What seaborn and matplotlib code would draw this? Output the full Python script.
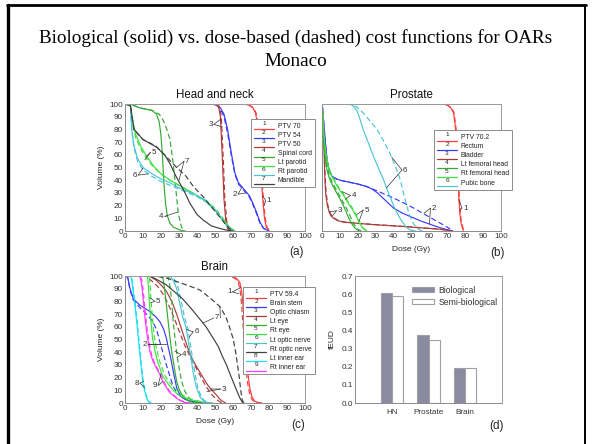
import numpy as np
import pandas as pd
import matplotlib
matplotlib.use("Agg")
import matplotlib.pyplot as plt
import seaborn as sns
from matplotlib.lines import Line2D
from matplotlib.text import Text
from matplotlib.legend_handler import HandlerLine2D

# ---------------- DATA ----------------
# Head and neck (a): organ -> (solid dose, solid vol, dashed dose, dashed vol)
hn_names = ["PTV 70", "PTV 54", "PTV 50", "Spinal cord", "Lt parotid", "Rt parotid", "Mandible"]
hn_colors = ["#ff3b3b", "#3a3aff", "#b03a3a", "#33aa33", "#3ee03e", "#4cc4d4", "#404040"]

hn1_sd = [0, 66, 69, 71, 72.5, 73.5, 74.5, 75.5, 76.5, 77.5, 78.5, 80]
hn1_sv = [100, 100, 99, 97, 93, 85, 70, 48, 25, 10, 3, 0]
hn1_dd = [0, 66.3, 69.3, 71.3, 72.8, 73.8, 74.8, 75.8, 76.8, 77.8, 78.8, 80.5]
hn1_dv = [100, 100, 99, 97, 93, 86, 72, 50, 27, 11, 3, 0]

hn2_sd = [0, 48, 51, 53, 55, 57, 59, 61, 63, 66, 69, 71, 73, 75, 77, 80]
hn2_sv = [100, 100, 99, 97, 92, 80, 62, 46, 38, 33, 28, 22, 15, 7, 2, 0]
hn2_dd = [0, 48, 51, 53, 55, 57, 59, 61, 63, 66, 69, 71, 73, 75, 77, 80]
hn2_dv = [100, 100, 99, 96, 90, 77, 60, 45, 37, 32, 27, 21, 14, 6, 2, 0]

hn3_sd = [0, 50, 52, 53, 54, 55, 56, 57, 58]
hn3_sv = [100, 100, 98, 90, 60, 25, 8, 2, 0]
hn3_dd = [0, 50.5, 52.5, 53.5, 54.5, 55.5, 56.5, 57.5, 58.5]
hn3_dv = [100, 100, 98, 90, 60, 25, 8, 2, 0]

hn4_sd = [0, 3, 8, 15, 17.5, 19, 20, 20.8, 21.5, 22.5, 23.5, 25, 27, 30, 33]
hn4_sv = [100, 100, 97, 95, 92, 86, 75, 60, 40, 22, 12, 6, 3, 1, 0]
hn4_dd = [0, 3, 8, 15, 19, 21.3, 23, 25, 26.8, 28.3, 29.6, 31.4, 33.5]
hn4_dv = [100, 100, 97, 95, 92, 87, 81, 72, 53, 32, 14, 3, 0]

hn5_sd = [0, 3, 4, 6, 9, 12, 16, 20, 25, 30, 35, 40, 45, 50, 55, 58, 61]
hn5_sv = [100, 99, 88, 76, 66, 59, 51, 45, 40, 36, 32, 28, 23, 16, 8, 3, 0]
hn5_dd = [0, 3, 4, 6, 9, 12, 16, 20, 25, 30, 35, 40, 45, 50, 55, 58, 61]
hn5_dv = [100, 98, 85, 73, 64, 57, 50, 45, 40, 36, 32, 28, 24, 18, 9, 3, 0]

hn6_sd = [0, 3, 3.7, 5, 7, 10, 15, 20, 25, 30, 35, 40, 45, 50, 53, 56, 60]
hn6_sv = [100, 99, 81, 67, 57, 50, 45, 41, 38, 34, 31, 28, 24, 17, 11, 5, 0]
hn6_dd = [0, 3, 3.7, 5, 7, 10, 15, 20, 25, 30, 35, 40, 45, 50, 53, 56, 60]
hn6_dv = [100, 99, 80, 65, 55, 48, 43, 39, 36, 33, 30, 27, 23, 17, 11, 5, 0]

hn7_sd = [0, 3, 5, 10, 17.6, 22, 25, 28, 30.5, 33, 36, 40, 43.4, 48, 52.7, 57, 60]
hn7_sv = [100, 99, 80, 72, 66, 60, 53, 44, 37.5, 31, 22, 13, 8.7, 4, 2, 0.5, 0]
hn7_dd = [0, 3, 5, 10, 17, 23, 28, 34, 38, 43.4, 48, 52.7, 56, 58, 60]
hn7_dv = [100, 99, 80, 72, 67, 58.5, 51, 43, 35, 27, 19, 11, 5, 2, 0]

# Prostate (b)
pr_names = ["PTV 70.2", "Rectum", "Bladder", "Lt femoral head", "Rt femoral head", "Pubic bone"]
pr_colors = ["#ff3b3b", "#3a3aff", "#a83c3c", "#33aa33", "#3ee03e", "#4cc4d4"]

pr1_sd = [0, 68, 70, 72, 73.5, 74.5, 75.4, 76, 76.4, 77, 77.7, 79]
pr1_sv = [100, 100, 99, 97, 93, 82, 66, 45, 27, 14, 6, 0]
pr1_dd = [0, 68.3, 70.3, 72.3, 73.8, 74.8, 75.7, 76.3, 76.7, 77.3, 78, 79.3]
pr1_dv = [100, 100, 99, 97, 93, 82, 66, 45, 27, 14, 6, 0]

pr2_sd = [0, 0.5, 1, 2, 2.8, 4, 5.6, 8, 10, 15, 20, 25, 28, 31, 34, 37, 40, 45, 50, 55, 60, 65, 70, 73]
pr2_sv = [100, 95, 85, 68, 56, 48, 43, 41, 40, 38.5, 37, 35, 33, 30, 26, 22, 18, 14, 11, 8, 5.5, 3, 1, 0]
pr2_dd = [0, 0.5, 1, 2, 2.8, 4, 5.6, 8, 10, 15, 20, 25, 30, 35, 40, 45, 50, 55, 60, 65, 70, 73]
pr2_dv = [100, 95, 85, 68, 56, 48, 43, 41, 40, 38.5, 37, 35, 32, 29, 26, 22.5, 19, 15, 11, 7, 3, 0]

pr3_sd = [0, 0.5, 1, 1.5, 2, 3, 4, 5, 6.5, 9, 12, 20, 29, 40, 47, 55, 62, 66, 70, 72]
pr3_sv = [100, 92, 70, 45, 30, 20, 15, 12, 10, 8, 7, 6, 5, 4, 3.4, 2.5, 1.8, 1.3, 0.5, 0]
pr3_dd = [0, 0.6, 1.2, 1.7, 2.3, 3.3, 4.3, 5.4, 7, 9.5, 13, 21, 30, 41, 48, 56, 63, 67, 71, 73]
pr3_dv = [100, 92, 70, 45, 30, 20, 15, 12, 10, 8, 7, 6, 5, 4, 3.4, 2.5, 1.8, 1.3, 0.5, 0]

pr4_sd = [0, 0.5, 1, 2, 2.8, 4, 5.5, 7.4, 9, 10.5, 12, 13.5, 15, 16.5, 18, 19.5, 21]
pr4_sv = [100, 90, 70, 55, 48, 42, 37, 32, 28, 24, 20, 15, 10, 6, 3, 1, 0]
pr4_dd = [0, 0.5, 1, 2, 3, 4, 5.5, 7.4, 9, 10.5, 12, 14, 16, 17.5, 19, 20.5, 22]
pr4_dv = [100, 90, 72, 57, 50, 44, 39, 34, 30, 26, 22, 17, 11, 6, 3, 1, 0]

pr5_sd = [0, 0.5, 1, 2, 3, 4, 5.5, 7.4, 9, 11, 13, 15, 17, 19, 21, 23, 25]
pr5_sv = [100, 92, 76, 62, 54, 48, 43, 38, 34, 30, 26, 21, 17, 12, 6, 2, 0]
pr5_dd = [0, 0.5, 1, 2, 3, 4, 5.5, 7.4, 9, 11, 13, 15, 17, 19, 21, 23, 26]
pr5_dv = [100, 92, 77, 63, 55, 49, 44, 39, 35, 31, 27, 22, 18, 13, 7, 2, 0]

pr6_sd = [0, 15, 17, 19.5, 21, 23, 26, 29, 32, 34.5, 36, 38, 40, 42, 44, 45.6, 47, 49, 52]
pr6_sv = [100, 100, 99, 95, 89, 80, 69, 58, 48, 40, 34, 27, 20, 14, 9, 6, 3, 1, 0]
pr6_dd = [0, 16, 17.7, 20, 23, 26, 30.7, 34, 38, 41, 43.8, 45.5, 47.5, 49, 51, 53, 56]
pr6_dv = [100, 100, 99, 97, 93, 88, 80, 72, 61, 51, 40, 30, 19, 12, 6, 2, 0]

# Brain (c)
br_names = ["PTV 59.4", "Brain stem", "Optic chiasm", "Lt eye", "Rt eye",
            "Lt optic nerve", "Rt optic nerve", "Lt inner ear", "Rt inner ear"]
br_colors = ["#ff3b3b", "#3a3aff", "#a83c3c", "#33aa33", "#3ee03e",
             "#4cc4d4", "#404040", "#1ee0f0", "#ff3cff"]

br1_sd = [0, 58, 60, 62, 63.8, 64.8, 65.6, 66.5, 67.5, 68.4, 69.3, 70.5, 72, 74, 76]
br1_sv = [100, 100, 99.5, 98, 95, 88, 77, 58, 38, 22, 12, 5, 1.5, 0.3, 0]
br1_dd = [0, 57.2, 59.2, 61.2, 63, 64, 64.8, 65.7, 66.7, 67.6, 68.5, 69.7, 71.2, 73.2, 75.2]
br1_dv = [100, 100, 99.5, 98, 95, 88, 77, 58, 38, 22, 12, 5, 1.5, 0.3, 0]

br2_sd = [0, 1.5, 2.8, 4.6, 8.3, 13.9, 17, 19.4, 21.5, 23, 24, 25, 26, 26.8, 28.7, 30, 32, 35, 38, 42, 45]
br2_sv = [100, 99, 90, 82, 77, 72, 68, 64, 58, 51, 44, 38, 31, 25, 12, 8, 4, 2, 1, 0.3, 0]
br2_dd = [0, 1.5, 2.8, 4.6, 8.3, 12, 15, 17.5, 19.4, 21, 23, 24.5, 26.8, 28.7, 32, 36, 40, 44]
br2_dv = [100, 99, 89, 81, 75, 70, 65, 58, 48, 40, 30, 23, 13, 8, 4, 1.5, 0.5, 0]

br3_sd = [0, 12, 14, 17, 20, 23, 26, 28.7, 31, 33.5, 36, 38, 40, 43.4, 46, 49, 51, 52.7, 54, 56]
br3_sv = [100, 100, 99.5, 97, 93, 88, 80, 70, 60, 49, 39, 33, 28, 20, 14, 9, 6, 3, 1.5, 0]
br3_dd = [0, 10, 12, 15, 18, 21, 24, 27, 30, 33, 36, 39, 42, 45, 48, 50, 52, 54]
br3_dv = [100, 100, 99.5, 96, 92, 86, 78, 68, 57, 46, 37, 29, 21, 13, 7, 4, 1.5, 0]

br4_sd = [0, 19, 21, 22, 23, 24, 25, 26, 26.8, 27.7, 28.7, 30, 31.4, 33, 35, 37, 40]
br4_sv = [100, 100, 99, 90, 77, 64, 51, 40, 33, 25, 17, 11, 7, 4, 2, 0.7, 0]
br4_dd = [0, 22, 24, 25, 26, 26.8, 27.7, 28.7, 29.5, 30.5, 31.5, 33, 35, 37, 40, 43]
br4_dv = [100, 100, 99, 92, 80, 64, 52, 40, 32, 24, 17, 10, 5, 2, 0.6, 0]

br5_sd = [0, 11.5, 12.5, 13, 13.5, 14.5, 15.3, 16.5, 18, 19.5, 21, 24, 26.8, 30, 34, 38, 41.6, 45, 48]
br5_sv = [100, 100, 99, 92, 80, 63, 51, 42, 33, 27, 21, 15, 10, 6, 4, 2, 1, 0.3, 0]
br5_dd = [0, 12.5, 13.5, 14, 14.5, 15.5, 16.3, 17.5, 19, 20.5, 22, 25, 28, 31, 35, 39, 43, 46, 49]
br5_dv = [100, 100, 99, 92, 80, 63, 52, 43, 34, 28, 22, 16, 11, 7, 4, 2, 1, 0.3, 0]

br6_sd = [0, 24, 25.5, 27, 28.7, 30.5, 32, 34, 35, 36, 37, 38, 39.5, 41.6, 44, 47]
br6_sv = [100, 100, 99, 96, 90, 78, 68, 59, 50, 41, 32, 23, 13, 5, 1, 0]
br6_dd = [0, 25, 26.5, 28, 29.7, 31.5, 33, 35, 36, 37, 38, 39, 40.5, 42.6, 45, 48]
br6_dv = [100, 100, 99, 96, 90, 78, 68, 58, 49, 40, 31, 22, 12, 4, 1, 0]

br7_sd = [0, 13.9, 18, 23, 28, 32, 37, 41.6, 45, 49, 52, 54, 56.4, 58, 60, 62, 63.8, 65, 65.6]
br7_sv = [100, 100, 97, 93, 87, 82, 74, 66, 60, 51, 44, 37, 30, 24, 17, 10, 4, 1, 0]
br7_dd = [0, 17, 24, 30, 36, 41.6, 47, 52.7, 56, 58, 60, 61.5, 62.5, 63.5, 64.3, 65, 66]
br7_dv = [100, 100, 98, 95, 92, 89, 83, 76, 68, 60, 51, 40, 30, 20, 10, 3, 0]

br8_sd = [0, 3, 3.7, 4.5, 5.5, 6.5, 7.4, 8.3, 9.2, 10, 11, 12, 13, 14]
br8_sv = [100, 100, 97, 88, 77, 64, 51, 38, 25, 16, 9, 4, 1, 0]
br8_dd = [0, 3.3, 4, 4.8, 5.8, 6.8, 7.7, 8.6, 9.5, 10.3, 11.3, 12.3, 13.3, 14.5]
br8_dv = [100, 100, 97, 88, 77, 64, 51, 38, 25, 16, 9, 4, 1, 0]

br9_sd = [0, 8, 8.8, 9.5, 10.2, 11, 12, 13, 13.9, 15.5, 17.6, 19.5, 21, 23, 25, 27.5, 30.5, 33, 36]
br9_sv = [100, 100, 97, 90, 80, 68, 56, 47, 40, 33, 27, 22, 17, 12, 8, 5, 2, 0.5, 0]
br9_dd = [0, 8.5, 9.3, 10, 10.7, 11.5, 12.5, 13.5, 14.4, 16, 18.1, 20, 21.5, 23.5, 25.5, 28, 31, 33.5, 36.5]
br9_dv = [100, 100, 97, 90, 80, 68, 56, 47, 40, 33, 27, 22, 17, 12, 8, 5, 2, 0.5, 0]

# fEUD bars (d)
sites = ["HN", "Prostate", "Brain"]
feud_bio = [0.605, 0.375, 0.195]
feud_semi = [0.590, 0.350, 0.195]

# leader labels: (number, text position, [target on solid, target on dashed])
hn_labels = [("1", (80, 24), [(76.3, 28), (77.2, 20)]),
             ("2", (61, 29), [(65, 34.5), (67, 30)]),
             ("3", (47.5, 84), [(53.2, 88), (54, 82)]),
             ("4", (20.3, 11.5), [(23.6, 12), (29.4, 15)]),
             ("5", (16, 62), [(12, 59), (11, 56)]),
             ("6", (5.5, 44), [(10, 49.5), (13, 45)]),
             ("7", (34.6, 55), [(28.6, 50), (30, 40)])]
pr_labels = [("1", (80, 18), [(76.4, 25), (77, 16)]),
             ("2", (62.4, 18), [(57, 14), (60, 5.5)]),
             ("3", (9.9, 16), [(4, 15), (5.5, 11.5)]),
             ("4", (17.7, 28), [(11.2, 31), (13, 25)]),
             ("5", (24.8, 16.5), [(19.5, 13), (20.8, 8)]),
             ("6", (46.5, 48), [(39, 58), (36, 34)])]
br_labels = [("1", (57.9, 87.5), [(64.5, 91), (63.2, 86)]),
             ("2", (11, 46), [(20, 46), (23.5, 46)]),
             ("3", (54.9, 11), [(47.2, 11), (45.5, 9)]),
             ("4", (33, 38), [(27.6, 41), (28.9, 36)]),
             ("5", (18.5, 80), [(13.6, 83), (14.4, 79)]),
             ("6", (39.7, 56), [(34.2, 58), (35.7, 52)]),
             ("7", (51.2, 67), [(43.4, 63), (52.7, 76)]),
             ("8", (6.5, 15.7), [(10.3, 17), (10.9, 12)]),
             ("9", (16.6, 13.8), [(21, 17), (20, 23)])]

g = globals()
hn_curves = [(g[f"hn{i}_sd"], g[f"hn{i}_sv"], g[f"hn{i}_dd"], g[f"hn{i}_dv"]) for i in range(1, 8)]
pr_curves = [(g[f"pr{i}_sd"], g[f"pr{i}_sv"], g[f"pr{i}_dd"], g[f"pr{i}_dv"]) for i in range(1, 7)]
br_curves = [(g[f"br{i}_sd"], g[f"br{i}_sv"], g[f"br{i}_dd"], g[f"br{i}_dv"]) for i in range(1, 10)]

# ---------------- STYLE ----------------
sns.set_theme(style="white")
plt.rcParams["font.family"] = ["Liberation Sans", "DejaVu Sans"]
plt.rcParams["axes.linewidth"] = 0.7

W, H = 592, 444
fig = plt.figure(figsize=(W / 100, H / 100), dpi=100)
fig.patch.set_facecolor("white")

# slide frame
fig.add_artist(Line2D([7.5 / W, 7.5 / W], [0, 1 - 5 / H], transform=fig.transFigure, color="black", lw=2.4))
fig.add_artist(Line2D([6.5 / W, 585.5 / W], [1 - 5 / H, 1 - 5 / H], transform=fig.transFigure, color="black", lw=2.0))
fig.add_artist(Line2D([585 / W, 585 / W], [0, 1 - 5 / H], transform=fig.transFigure, color="black", lw=1.4))

fig.text(0.5, 1 - 38 / H, "Biological (solid) vs. dose-based (dashed) cost functions for OARs",
         ha="center", va="center", family=["Liberation Serif", "DejaVu Serif"], fontsize=13.8, color="black")
fig.text(0.5, 1 - 61 / H, "Monaco", ha="center", va="center",
         family=["Liberation Serif", "DejaVu Serif"], fontsize=13.8, color="black")


def px_axes(x0, y0, x1, y1):
    return fig.add_axes([x0 / W, 1 - y1 / H, (x1 - x0) / W, (y1 - y0) / H])


FS_TICK = 5.9
SPINE = "#8a8a8a"


def style_axes(ax):
    for s in ("left", "bottom"):
        ax.spines[s].set_color(SPINE)
        ax.spines[s].set_linewidth(0.7)
    for s in ("top", "right"):
        ax.spines[s].set_color("#9a9a9a")
        ax.spines[s].set_linewidth(0.7)
        ax.spines[s].set_linestyle((0, (1, 1)))
    ax.tick_params(axis="both", labelsize=FS_TICK, length=1.5, width=0.5, pad=1.5,
                   direction="in", colors="#333333", labelcolor="#333333")
    ax.set_facecolor("white")


class NumberedLine(HandlerLine2D):
    def __init__(self, num, **kw):
        super().__init__(**kw)
        self.num = num

    def create_artists(self, legend, orig_handle, xdescent, ydescent, width, height, fontsize, trans):
        arts = super().create_artists(legend, orig_handle, xdescent, ydescent, width, height, fontsize, trans)
        for a in arts:
            if isinstance(a, Line2D):
                xd = np.asarray(a.get_xdata(), dtype=float)
                a.set_ydata(np.full_like(xd, -0.05 * height - ydescent))
        t = Text(width / 2 - xdescent, height * 0.75 - ydescent, self.num, fontsize=fontsize * 0.95,
                 ha="center", va="center", color="#222222", transform=trans)
        return arts + [t]


def dvh_panel(ax, curves, names, colors, labels, title, leg_anchor):
    for (sd, sv, dd, dv), c in zip(curves, colors):
        sns.lineplot(x=dd, y=dv, ax=ax, color=c, lw=0.85, sort=False, estimator=None,
                     linestyle=(0, (4.5, 2.5)), legend=False)
        sns.lineplot(x=sd, y=sv, ax=ax, color=c, lw=0.85, sort=False, estimator=None, legend=False)
    for num, txy, targets in labels:
        ax.text(txy[0], txy[1], num, fontsize=5.8, ha="center", va="center", color="#333333")
        for tx, ty in targets:
            ax.annotate("", xy=(tx, ty), xytext=(txy[0] - 1.8 * np.sign(txy[0] - tx), txy[1]),
                        arrowprops=dict(arrowstyle="-", lw=0.5, color="#333333",
                                        shrinkA=0, shrinkB=0))
    ax.set_xlim(0, 100)
    ax.set_ylim(0, 100)
    ax.set_xticks(range(0, 101, 10))
    ax.set_yticks(range(0, 101, 10))
    ax.set_xlabel("")
    ax.set_ylabel("")
    ax.set_title(title, fontsize=8.3, pad=4, color="#111111")
    style_axes(ax)
    handles = [Line2D([], [], color=c, lw=0.9) for c in colors]
    hmap = {h: NumberedLine(str(i + 1)) for i, h in enumerate(handles)}
    leg = ax.legend(handles, names, handler_map=hmap, loc="upper left", bbox_to_anchor=leg_anchor,
                    fontsize=4.9, frameon=True, fancybox=False, framealpha=1, edgecolor="#7a7a7a",
                    handlelength=2.9, handleheight=1.25, labelspacing=0.18, borderpad=0.45,
                    handletextpad=0.6, borderaxespad=0)
    leg.get_frame().set_linewidth(0.6)
    leg.set_zorder(10)
    for t in leg.get_texts():
        t.set_color("#222222")
    return ax


# (a) Head and neck
axa = px_axes(125, 104, 305, 231)
dvh_panel(axa, hn_curves, hn_names, hn_colors, hn_labels, "Head and neck", (0.70, 0.885))
axa.set_ylabel("Volume (%)", fontsize=6, labelpad=3)
axa.text(0.955, -0.165, "(a)", transform=axa.transAxes, fontsize=8.5, ha="center", va="center")

# (b) Prostate
axb = px_axes(322, 104, 501, 231)
dvh_panel(axb, pr_curves, pr_names, pr_colors, pr_labels, "Prostate", (0.626, 0.795))
axb.set_yticklabels([])
axb.set_xlabel("Dose (Gy)", fontsize=6, labelpad=4)
axb.text(0.98, -0.175, "(b)", transform=axb.transAxes, fontsize=8.5, ha="center", va="center")

# (c) Brain
axc = px_axes(125, 276, 305, 403)
dvh_panel(axc, br_curves, br_names, br_colors, br_labels, "Brain", (0.656, 0.913))
axc.set_ylabel("Volume (%)", fontsize=6, labelpad=3)
axc.set_xlabel("Dose (Gy)", fontsize=6, labelpad=4)
axc.text(0.96, -0.175, "(c)", transform=axc.transAxes, fontsize=8.5, ha="center", va="center")

# (d) fEUD bars
axd = px_axes(355, 276, 502, 403)
df = pd.DataFrame({
    "site": sites * 2,
    "type": ["Biological"] * len(sites) + ["Semi-biological"] * len(sites),
    "fEUD": feud_bio + feud_semi,
})
sns.barplot(data=df, x="site", y="fEUD", hue="type", ax=axd,
            palette={"Biological": "#8a8aa2", "Semi-biological": "white"},
            edgecolor="#a0a0a0", linewidth=0.8, width=0.6, saturation=1)
axd.set_xlim(-1, 3)
axd.set_ylim(0, 0.7)
axd.set_yticks(np.arange(0, 0.71, 0.1))
axd.set_yticklabels([f"{v:.1f}" for v in np.arange(0, 0.71, 0.1)])
axd.set_xlabel("")
axd.set_ylabel("fEUD", fontsize=6, labelpad=4)
style_axes(axd)
axd.tick_params(axis="x", length=0, pad=4)
leg = axd.legend(loc="upper right", bbox_to_anchor=(0.97, 0.925), frameon=False, fontsize=6.2,
                 handlelength=2.6, handleheight=0.55, labelspacing=0.35, handletextpad=0.5,
                 borderaxespad=0, borderpad=0)
for t in leg.get_texts():
    t.set_color("#333333")
axd.text(0.965, -0.18, "(d)", transform=axd.transAxes, fontsize=8.5, ha="center", va="center")

fig.savefig("out.png", dpi=100, facecolor="white")
